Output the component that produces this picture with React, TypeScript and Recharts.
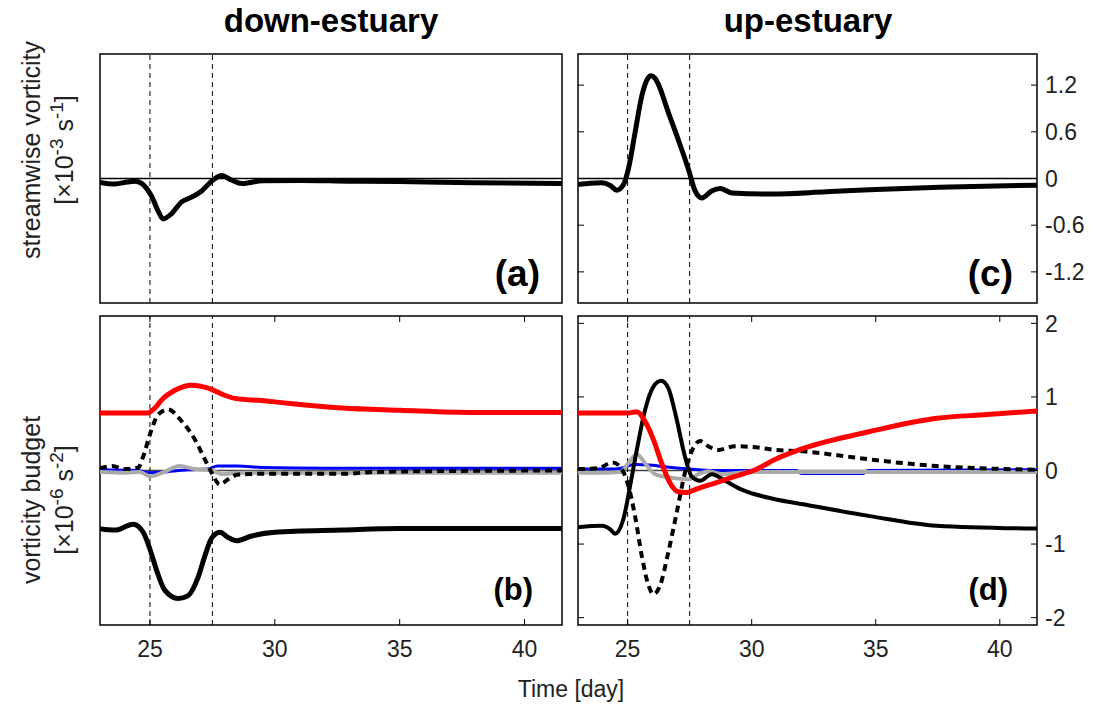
import React from "react";
import { LineChart, Line, XAxis, YAxis, ReferenceLine, ReferenceArea } from "recharts";

// x axis (days)
const dayTicks = [25, 30, 35, 40];
const topTicks = [-1.2, -0.6, 0, 0.6, 1.2];
const botTicks = [-2, -1, 0, 1, 2];
const dashedDays = [25, 27.5];

// (a) streamwise vorticity, down-estuary
const aDay = [23, 23.6, 24.1, 24.4, 24.65, 24.85, 25.07, 25.33, 25.53, 25.87, 26.27, 26.67, 27.07, 27.47, 27.87, 28.27, 28.67, 29.5, 31, 33, 35, 38, 41.5];
const aVal = [-0.05, -0.07, -0.045, -0.035, -0.06, -0.12, -0.23, -0.42, -0.52, -0.45, -0.3, -0.24, -0.16, -0.035, 0.04, -0.02, -0.065, -0.03, -0.025, -0.035, -0.04, -0.055, -0.065];

// (c) streamwise vorticity, up-estuary
const cDay = [23, 23.5, 23.96, 24.3, 24.56, 24.83, 25.03, 25.3, 25.57, 25.8, 25.94, 26.1, 26.24, 26.64, 27.04, 27.45, 27.72, 27.99, 28.39, 28.73, 29.2, 30.8, 33, 35, 38, 41.5];
const cVal = [-0.077, -0.06, -0.055, -0.09, -0.15, -0.08, 0.12, 0.59, 1.06, 1.28, 1.32, 1.29, 1.21, 0.85, 0.5, 0.12, -0.16, -0.25, -0.16, -0.13, -0.185, -0.2, -0.17, -0.14, -0.11, -0.085];

// (b) vorticity budget, down-estuary
const bRedDay = [23, 24, 24.9, 25.2, 25.47, 26, 26.67, 27.33, 27.87, 28.4, 29.47, 30.8, 32.7, 35, 38, 41.5];
const bRedVal = [0.78, 0.78, 0.78, 0.85, 0.96, 1.09, 1.16, 1.12, 1.04, 0.98, 0.95, 0.905, 0.85, 0.82, 0.79, 0.79];
const bDashDay = [23, 23.5, 24, 24.53, 24.73, 25, 25.33, 25.73, 26.27, 26.8, 27.2, 27.47, 27.8, 28.13, 28.53, 29.47, 32.7, 34, 36, 41.5];
const bDashVal = [0.03, 0.06, 0.02, 0.04, 0.19, 0.49, 0.76, 0.83, 0.67, 0.42, 0.15, -0.03, -0.19, -0.12, -0.055, -0.045, -0.045, -0.02, -0.01, 0];
const bBlackDay = [23, 23.6, 24.33, 24.73, 25, 25.27, 25.6, 26.13, 26.53, 26.93, 27.2, 27.47, 27.8, 28.13, 28.47, 29.07, 30, 32.7, 35, 41.5];
const bBlackVal = [-0.79, -0.81, -0.73, -0.84, -1.07, -1.36, -1.63, -1.74, -1.7, -1.45, -1.16, -0.92, -0.84, -0.91, -0.955, -0.89, -0.84, -0.81, -0.79, -0.79];
const bBlueDay = [23, 24.5, 25, 25.5, 26.5, 27.3, 27.7, 28.5, 29.5, 32, 41.5];
const bBlueVal = [0.01, 0.0, -0.03, -0.02, 0.01, 0.02, 0.06, 0.06, 0.04, 0.03, 0.03];
const bGrayDay = [23, 24, 24.6, 25, 25.5, 26.2, 26.8, 27.4, 27.9, 28.5, 30, 41.5];
const bGrayVal = [-0.02, -0.03, -0.02, -0.08, -0.03, 0.06, 0.02, 0.01, -0.05, -0.03, -0.03, -0.03];

// (d) vorticity budget, up-estuary
const dRedDay = [23, 24, 25.03, 25.37, 25.7, 26.04, 26.37, 26.71, 27.04, 27.38, 27.72, 28.52, 29.33, 30.14, 30.94, 32.08, 34.77, 37.46, 39.5, 41.5];
const dRedVal = [0.78, 0.78, 0.78, 0.8, 0.67, 0.42, 0.1, -0.17, -0.29, -0.3, -0.26, -0.17, -0.08, 0.01, 0.15, 0.3, 0.53, 0.71, 0.76, 0.81];
const dBlackDay = [23, 23.96, 24.3, 24.49, 24.83, 25.1, 25.37, 25.7, 26.04, 26.35, 26.64, 26.98, 27.31, 27.58, 27.92, 28.39, 28.93, 29.6, 30.94, 32.08, 34.77, 37.46, 41.5];
const dBlackVal = [-0.77, -0.75, -0.8, -0.86, -0.66, -0.21, 0.28, 0.82, 1.14, 1.22, 1.12, 0.69, 0.19, -0.08, -0.14, -0.05, -0.14, -0.26, -0.39, -0.46, -0.62, -0.75, -0.79];
const dDashDay = [23, 23.8, 24.4, 24.7, 25.03, 25.3, 25.57, 25.84, 26.04, 26.31, 26.64, 26.98, 27.31, 27.65, 27.92, 28.25, 28.66, 29.33, 30, 30.94, 32.08, 33.4, 34.77, 37.46, 40.2, 41.5];
const dDashVal = [0.02, 0.03, 0.11, 0.05, -0.21, -0.62, -1.16, -1.56, -1.68, -1.56, -1.11, -0.57, -0.03, 0.31, 0.4, 0.33, 0.28, 0.33, 0.32, 0.28, 0.26, 0.21, 0.15, 0.06, 0.02, 0.01];
const dGrayDay = [23, 24, 24.7, 25.03, 25.37, 25.7, 26.1, 26.8, 27.45, 27.85, 28.25, 28.8, 30, 41.5];
const dGrayVal = [-0.03, -0.03, -0.02, 0.1, 0.22, 0.1, -0.05, -0.1, -0.12, -0.05, -0.01, -0.05, -0.02, -0.02];
const dBlueDay = [23, 24.5, 25.3, 26, 26.5, 27.5, 28.5, 31.8, 32, 34.5, 34.7, 41.5];
const dBlueVal = [0.02, 0.02, 0.08, 0.07, 0.05, 0.02, 0.0, 0.0, -0.04, -0.04, 0.0, 0.01];

const zip = (xs: number[], ys: number[]) => xs.map((d, i) => ({ d, v: ys[i] }));

const FONT = "'Liberation Sans', Arial, sans-serif";
const X_DOMAIN: [number, number] = [23, 41.5];
const PLOT_W_L = 462;
const PLOT_W_R = 459;
const PLOT_H_TOP = 249;
const PLOT_H_BOT = 309;

const xTick = (plotH: number, label: boolean) => (props: any) => {
  const { x, y, payload } = props;
  return (
    <g>
      <line x1={x} x2={x} y1={y} y2={y - 6} stroke="#000" />
      <line x1={x} x2={x} y1={y - plotH} y2={y - plotH + 6} stroke="#000" />
      {label && (
        <text x={x} y={y + 32} textAnchor="middle" fontSize={23} fill="#222">
          {payload.value}
        </text>
      )}
    </g>
  );
};

const yTickLeft = (plotW: number) => (props: any) => {
  const { x, y } = props;
  return (
    <g>
      <line x1={x} x2={x + 6} y1={y} y2={y} stroke="#000" />
      <line x1={x + plotW - 6} x2={x + plotW} y1={y} y2={y} stroke="#000" />
    </g>
  );
};

const yTickRight = (plotW: number) => (props: any) => {
  const { x, y, payload } = props;
  return (
    <g>
      <line x1={x - 6} x2={x} y1={y} y2={y} stroke="#000" />
      <line x1={x - plotW} x2={x - plotW + 6} y1={y} y2={y} stroke="#000" />
      <text x={x + 8} y={y} dy="0.36em" fontSize={23} fill="#222">
        {payload.value}
      </text>
    </g>
  );
};

type Series = { data: { d: number; v: number }[]; color: string; width: number; dash?: string };

function Panel(props: {
  left: number;
  top: number;
  width: number;
  height: number;
  right: boolean;
  bottom: boolean;
  yDomain: [number, number];
  yTicks: number[];
  series: Series[];
  zeroColor: string;
}) {
  const { left, top, width, height, right, bottom, yDomain, yTicks, series, zeroColor } = props;
  const plotW = right ? PLOT_W_R : PLOT_W_L;
  const plotH = bottom ? PLOT_H_BOT : PLOT_H_TOP;
  return (
    <div style={{ position: "absolute", left, top }}>
      <LineChart
        width={width}
        height={height}
        margin={{ top: 10, left: 10, right: right ? 0 : 10, bottom: bottom ? 0 : 10 }}
      >
        <XAxis
          type="number"
          dataKey="d"
          domain={X_DOMAIN}
          ticks={dayTicks}
          interval={0}
          height={bottom ? 41 : 0}
          tickSize={0}
          tickMargin={0}
          axisLine={false}
          tickLine={false}
          tick={xTick(plotH, bottom)}
          allowDataOverflow
        />
        <YAxis
          type="number"
          domain={yDomain}
          ticks={yTicks}
          interval={0}
          orientation={right ? "right" : "left"}
          width={right ? 60 : 0}
          tickSize={0}
          tickMargin={0}
          axisLine={false}
          tickLine={false}
          tick={right ? yTickRight(plotW) : yTickLeft(plotW)}
          allowDataOverflow
        />
        <ReferenceLine y={0} stroke={zeroColor} strokeWidth={1.3} />
        {dashedDays.map((d) => (
          <ReferenceLine key={d} x={d} stroke="#000" strokeWidth={1} strokeDasharray="5 4" />
        ))}
        {series.map((s, i) => (
          <Line
            key={i}
            data={s.data}
            dataKey="v"
            type="monotone"
            stroke={s.color}
            strokeWidth={s.width}
            strokeDasharray={s.dash}
            strokeLinejoin="round"
            dot={false}
            isAnimationActive={false}
          />
        ))}
        <ReferenceArea
          x1={X_DOMAIN[0]}
          x2={X_DOMAIN[1]}
          y1={yDomain[0]}
          y2={yDomain[1]}
          fill="none"
          stroke="#000"
          strokeWidth={1.5}
        />
      </LineChart>
    </div>
  );
}

export default function App() {
  const topDomain: [number, number] = [-1.6, 1.6];
  const botDomain: [number, number] = [-2.1, 2.1];
  return (
    <div
      style={{
        position: "absolute",
        left: 0,
        top: 0,
        width: 1097,
        height: 709,
        background: "#fff",
        fontFamily: FONT,
      }}
    >
      <Panel
        left={90}
        top={44}
        width={482}
        height={269}
        right={false}
        bottom={false}
        yDomain={topDomain}
        yTicks={topTicks}
        zeroColor="#000"
        series={[{ data: zip(aDay, aVal), color: "#000", width: 5 }]}
      />
      <Panel
        left={568}
        top={44}
        width={529}
        height={269}
        right={true}
        bottom={false}
        yDomain={topDomain}
        yTicks={topTicks}
        zeroColor="#000"
        series={[{ data: zip(cDay, cVal), color: "#000", width: 5 }]}
      />
      <Panel
        left={90}
        top={306}
        width={482}
        height={360}
        right={false}
        bottom={true}
        yDomain={botDomain}
        yTicks={botTicks}
        zeroColor="#444"
        series={[
          { data: zip(bBlueDay, bBlueVal), color: "#0000ff", width: 3 },
          { data: zip(bGrayDay, bGrayVal), color: "#aaaaaa", width: 4 },
          { data: zip(bDashDay, bDashVal), color: "#000", width: 4, dash: "7 5" },
          { data: zip(bBlackDay, bBlackVal), color: "#000", width: 5 },
          { data: zip(bRedDay, bRedVal), color: "#ff0000", width: 5 },
        ]}
      />
      <Panel
        left={568}
        top={306}
        width={529}
        height={360}
        right={true}
        bottom={true}
        yDomain={botDomain}
        yTicks={botTicks}
        zeroColor="#444"
        series={[
          { data: zip(dBlueDay, dBlueVal), color: "#0000ff", width: 3 },
          { data: zip(dGrayDay, dGrayVal), color: "#aaaaaa", width: 4 },
          { data: zip(dDashDay, dDashVal), color: "#000", width: 4, dash: "7 5" },
          { data: zip(dBlackDay, dBlackVal), color: "#000", width: 4 },
          { data: zip(dRedDay, dRedVal), color: "#ff0000", width: 5 },
        ]}
      />
      <svg
        width={1097}
        height={709}
        style={{ position: "absolute", left: 0, top: 0, pointerEvents: "none" }}
        fontFamily={FONT}
      >
        <text x={331} y={32} textAnchor="middle" fontSize={33} fontWeight="bold" fill="#000">
          down-estuary
        </text>
        <text x={808} y={32} textAnchor="middle" fontSize={33} fontWeight="bold" fill="#000">
          up-estuary
        </text>
        <text x={540} y={286} textAnchor="end" fontSize={37} fontWeight="bold" fill="#000">(a)</text>
        <text x={1013} y={286} textAnchor="end" fontSize={37} fontWeight="bold" fill="#000">(c)</text>
        <text x={533} y={600} textAnchor="end" fontSize={31} fontWeight="bold" fill="#000">(b)</text>
        <text x={1008} y={600} textAnchor="end" fontSize={31} fontWeight="bold" fill="#000">(d)</text>
        <text x={571} y={697} textAnchor="middle" fontSize={23} fill="#222">Time [day]</text>
        <g transform="translate(40,150) rotate(-90)">
          <text x={0} y={0} textAnchor="middle" fontSize={25} fill="#222">streamwise vorticity</text>
          <text x={0} y={33} textAnchor="middle" fontSize={25} fill="#222">
            [×10<tspan dy={-10} fontSize={19}>-3</tspan>
            <tspan dy={10}> s</tspan>
            <tspan dy={-10} fontSize={19}>-1</tspan>
            <tspan dy={10}>]</tspan>
          </text>
        </g>
        <g transform="translate(40,500) rotate(-90)">
          <text x={0} y={0} textAnchor="middle" fontSize={25} fill="#222">vorticity budget</text>
          <text x={0} y={33} textAnchor="middle" fontSize={25} fill="#222">
            [×10<tspan dy={-10} fontSize={19}>-6</tspan>
            <tspan dy={10}> s</tspan>
            <tspan dy={-10} fontSize={19}>-2</tspan>
            <tspan dy={10}>]</tspan>
          </text>
        </g>
      </svg>
    </div>
  );
}
